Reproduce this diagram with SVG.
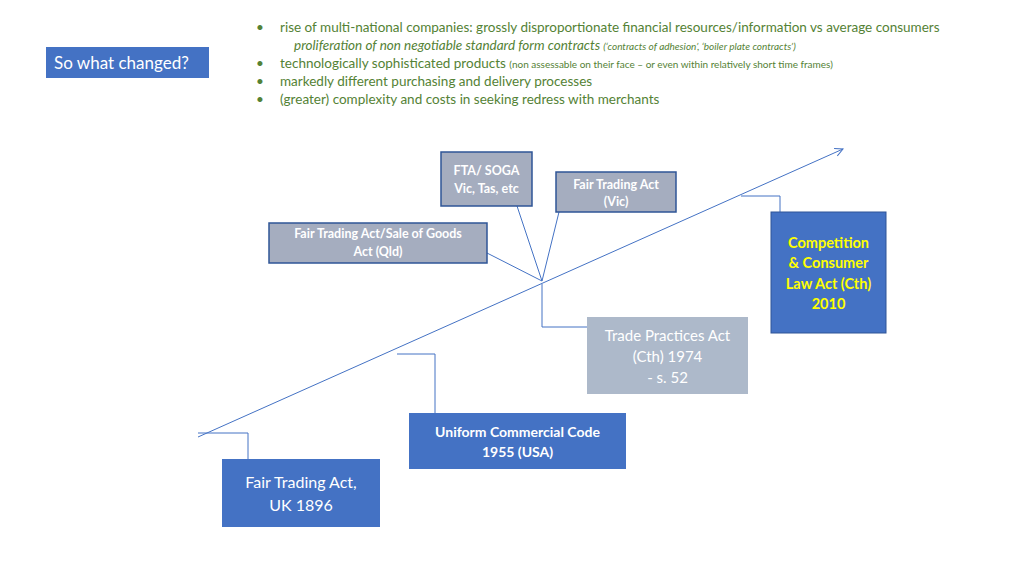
<svg xmlns="http://www.w3.org/2000/svg" width="1024" height="576" viewBox="0 0 1024 576">
<style>
text{font-family:Lato,"Open Sans","Liberation Sans",sans-serif}
.g{fill:#548235;font-size:13.5px}
.w{fill:#fff;text-anchor:middle}
.b{font-weight:bold}
.c{fill:none;stroke:#4472C4;stroke-width:1}
</style>
<defs><marker id="a" markerWidth="10" markerHeight="10" refX="9" refY="5" orient="auto" markerUnits="userSpaceOnUse"><path d="M1,1 L9,5 L1,9" fill="none" stroke="#4472C4"/></marker></defs>
<rect width="1024" height="576" fill="#fff"/>
<g id="title"><rect x="46" y="47" width="163" height="31" fill="#4472C4"/><text x="54" y="69" fill="#fff" font-size="17">So what changed?</text></g>
<g id="bullets">
<text x="256" y="32" class="g">•</text><text x="280" y="32" class="g">rise of multi-national companies: grossly disproportionate financial resources/information vs average consumers</text>
<text x="294" y="50" class="g" font-style="italic" fill="#333">proliferation of non negotiable standard form contracts <tspan font-size="10">(‘contracts of adhesion’, ‘boiler plate contracts’)</tspan></text>
<text x="256" y="68" class="g">•</text><text x="280" y="68" class="g">technologically sophisticated products <tspan font-size="10">(non assessable on their face – or even within relatively short time frames)</tspan></text>
<text x="256" y="86" class="g">•</text><text x="280" y="86" class="g">markedly different purchasing and delivery processes</text>
<text x="256" y="104" class="g">•</text><text x="280" y="104" class="g">(greater) complexity and costs in seeking redress with merchants</text>
</g>
<g id="connectors">
<line x1="198" y1="437" x2="843" y2="149" class="c" marker-end="url(#a)"/>
<polyline points="487,253 542,281 517,206" class="c"/>
<line x1="542" y1="281" x2="559" y2="212" class="c"/>
<polyline points="542,284 542,327 587,327" class="c"/>
<polyline points="741,196 780,196 780,212" class="c"/>
<polyline points="397,354 435,354 435,413" class="c"/>
<polyline points="198,433 248,433 248,459" class="c"/>
</g>
<g id="fta-soga"><rect x="441" y="152" width="91" height="54" fill="#A5ADBF" stroke="#2F5597" stroke-width="1.5"/><text class="w b" font-size="12.5" x="486.5" y="175">FTA/ SOGA</text><text class="w b" font-size="12.5" x="486.5" y="193">Vic, Tas, etc</text></g>
<g id="fta-vic"><rect x="556" y="172" width="120" height="40" fill="#A5ADBF" stroke="#2F5597" stroke-width="1.5"/><text class="w b" font-size="12.5" x="616" y="189">Fair Trading Act</text><text class="w b" font-size="12.5" x="616" y="206">(Vic)</text></g>
<g id="fta-qld"><rect x="269" y="223" width="218" height="40" fill="#A5ADBF" stroke="#2F5597" stroke-width="1.5"/><text class="w b" font-size="12.5" x="378" y="238">Fair Trading Act/Sale of Goods</text><text class="w b" font-size="12.5" x="378" y="256">Act (Qld)</text></g>
<g id="tpa"><rect x="587" y="317" width="161" height="77" fill="#ADB9CA"/><text class="w" font-size="15" x="667.5" y="341">Trade Practices Act</text><text class="w" font-size="15" x="667.5" y="362">(Cth) 1974</text><text class="w" font-size="15" x="667.5" y="383">- s. 52</text></g>
<g id="ccla"><rect x="771" y="212" width="115" height="121" fill="#4472C4" stroke="#2F5597"/><g class="b" fill="#FFFF00" font-size="14.5" text-anchor="middle"><text x="828.5" y="248">Competition</text><text x="828.5" y="268">&amp; Consumer</text><text x="828.5" y="289">Law Act (Cth)</text><text x="828.5" y="309">2010</text></g></g>
<g id="ucc"><rect x="409" y="413" width="217" height="56" fill="#4472C4"/><text class="w b" font-size="14" x="517.5" y="437">Uniform Commercial Code</text><text class="w b" font-size="14" x="517.5" y="457">1955 (USA)</text></g>
<g id="fta-uk"><rect x="222" y="459" width="158" height="68" fill="#4472C4"/><text class="w" font-size="16" x="301" y="488">Fair Trading Act,</text><text class="w" font-size="16" x="301" y="511">UK 1896</text></g>
</svg>
